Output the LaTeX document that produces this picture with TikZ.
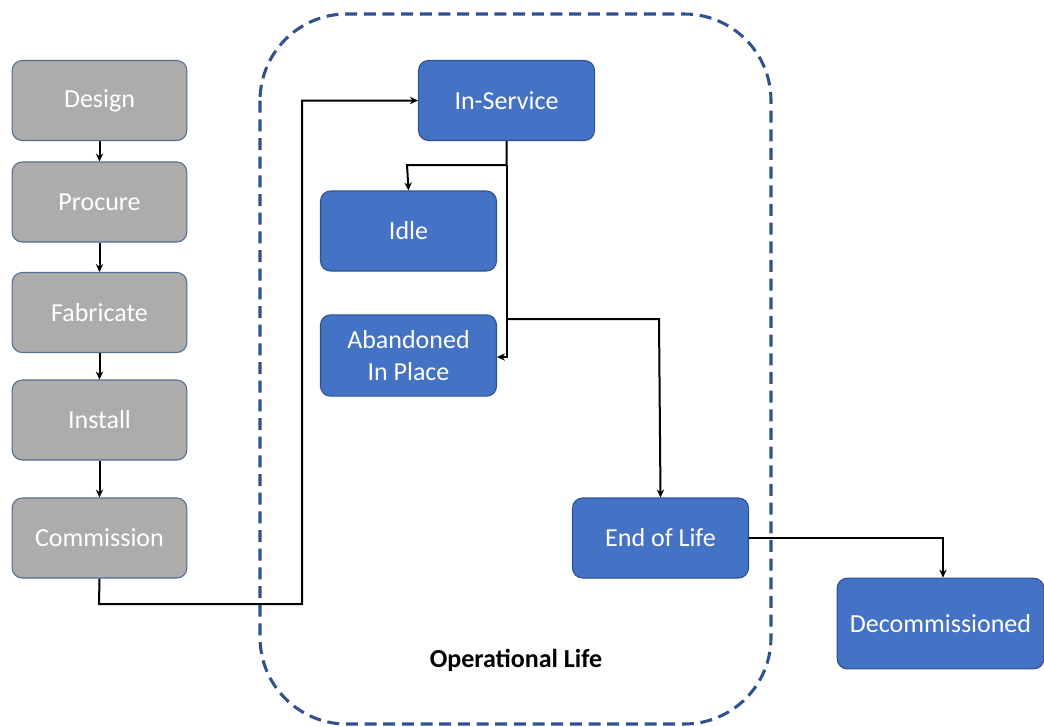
\documentclass[tikz,border=0pt]{standalone}
\usepackage{fontspec}
\setmainfont{Carlito}
\usetikzlibrary{arrows.meta}
\definecolor{grayfill}{HTML}{AEABAB}
\definecolor{grayline}{HTML}{4F6F94}
\definecolor{bluefill}{HTML}{4472C4}
\definecolor{blueline}{HTML}{2F528F}
\begin{document}
\begin{tikzpicture}[x=0.75pt,y=-0.75pt,
  box/.style={rectangle,rounded corners=7.5pt,line width=0.8pt,text=white,
    font=\fontsize{19.5}{23.5}\selectfont,align=center,inner sep=0pt},
  graybox/.style={box,fill=grayfill,draw=grayline,minimum width=131pt,minimum height=60pt},
  bluebox/.style={box,fill=bluefill,draw=blueline,minimum width=132pt,minimum height=60pt},
  conn/.style={line width=1.5pt,-{Stealth[length=6pt,width=5.5pt]}},
  line/.style={line width=1.5pt}]
\useasboundingbox (0,0) rectangle (1044,726);
% container
\draw[blueline,line width=2.3pt,dash pattern=on 9pt off 5pt,rounded corners=65pt] (260,14) rectangle (771,724);
\node[font=\bfseries\fontsize{19.5}{23}\selectfont] (ol) at (516,660) {Operational Life};
% gray boxes
\node[graybox] (design) at (99.5,100.5) {Design};
\node[graybox] (procure) at (99.5,202) {Procure};
\node[graybox] (fabricate) at (99.5,312.5) {Fabricate};
\node[graybox] (install) at (99.5,420) {Install};
\node[graybox] (commission) at (99.5,538) {Commission};
% blue boxes
\node[bluebox] (inservice) at (506.5,100.5) {In-Service};
\node[bluebox] (idle) at (408.5,231) {Idle};
\node[bluebox,minimum height=61pt] (abandoned) at (408.5,355.5) {Abandoned\\In Place};
\node[bluebox] (eol) at (660.5,538) {End of Life};
\node[bluebox,minimum width=155pt,minimum height=68pt] (decom) at (940.5,623.5) {Decommissioned};
% connectors
\draw[conn] (design) -- (procure);
\draw[conn] (procure) -- (fabricate);
\draw[conn] (fabricate) -- (install);
\draw[conn] (install) -- (commission);
\coordinate (c1) at (99,604);
\coordinate (c2) at (302,604);
\coordinate (c3) at (302,100.5);
\draw[conn] (commission.south) -- (c1) -- (c2) -- (c3) -- (inservice.west);
\coordinate (s1) at (506.5,165);
\coordinate (s2) at (407,165);
\coordinate (s3) at (506.5,357);
\coordinate (s4) at (506.5,319);
\coordinate (s5) at (659,319);
\draw[conn] (inservice.south) -- (s1) -- (s2) -- (idle.north);
\draw[conn] (s1) -- (s3) -- (abandoned.east |- s3);
\draw[conn] (s4) -- (s5) -- (eol.north);
\coordinate (e1) at (943,538);
\draw[conn] (eol.east) -- (e1) -- (decom.north -| e1);
\end{tikzpicture}
\end{document}
